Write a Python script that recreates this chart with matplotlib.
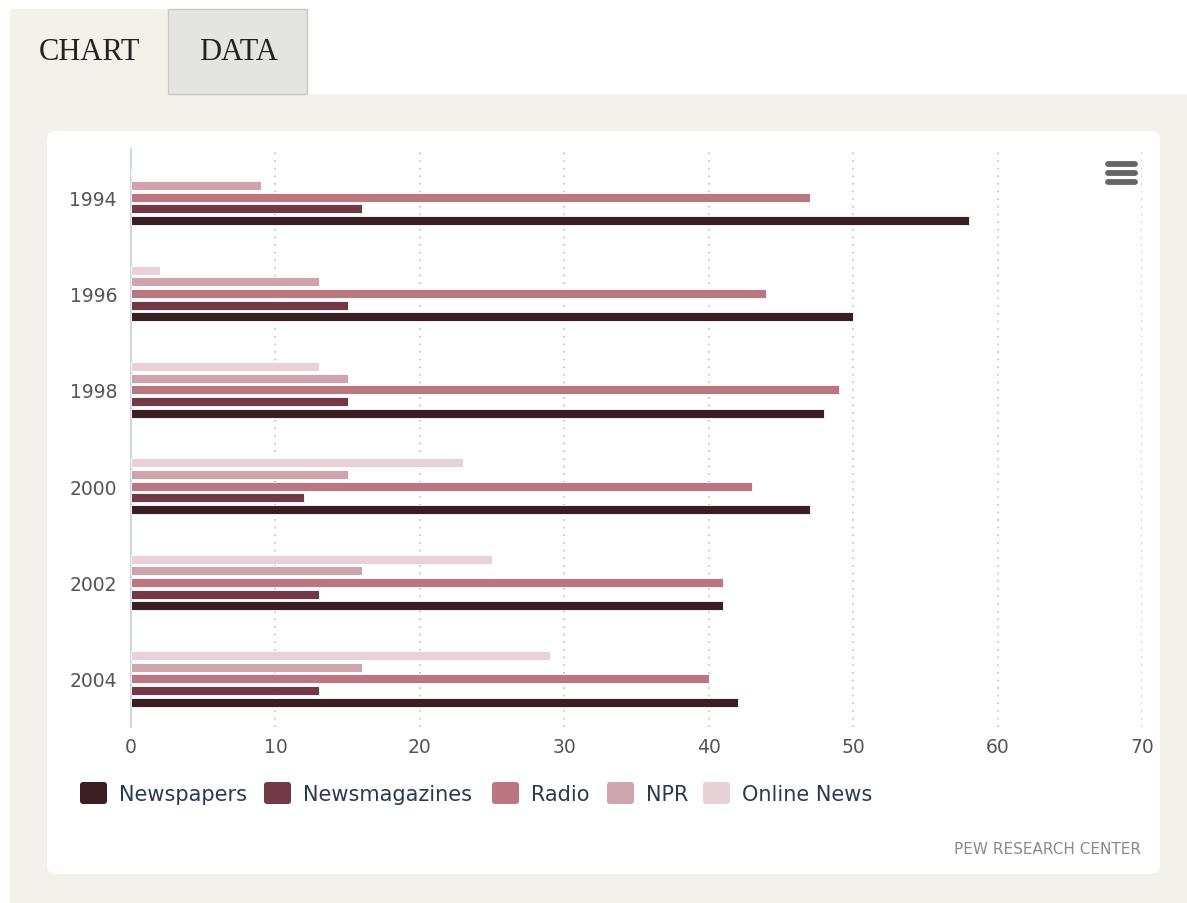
import numpy as np
import matplotlib
matplotlib.use("Agg")
from matplotlib import pyplot as plt
from matplotlib.patches import Rectangle, FancyBboxPatch

# data
years = ["1994", "1996", "1998", "2000", "2002", "2004"]
series_names = ["Newspapers", "Newsmagazines", "Radio", "NPR", "Online News"]
newspapers = [58, 50, 48, 47, 41, 42]
newsmagazines = [16, 15, 15, 12, 13, 13]
radio = [47, 44, 49, 43, 41, 40]
npr = [9, 13, 15, 15, 16, 16]
online_news = [0, 2, 13, 23, 25, 29]
x_ticks = [0, 10, 20, 30, 40, 50, 60, 70]

colors = ["#3b1e21", "#733a46", "#ba7780", "#cfa4ac", "#e8d1d7"]
series = [newspapers, newsmagazines, radio, npr, online_news]

W, H = 1187, 904
fig = plt.figure(figsize=(W / 100, H / 100), dpi=100)
fig.patch.set_facecolor("white")

# background layer in pixel coords
bg = fig.add_axes([0, 0, 1, 1])
bg.set_xlim(0, W)
bg.set_ylim(H, 0)
bg.axis("off")
beige = "#f4f0ea"
bg.add_patch(Rectangle((10, 95), W - 10, H - 95, color=beige, lw=0))
bg.add_patch(Rectangle((10, 10), 158, 86, color=beige, lw=0))
bg.add_patch(Rectangle((168, 10), 139, 85, facecolor="#e4e5e0", edgecolor="#c9cac4", lw=1))
bg.text(89, 53, "CHART", family="Liberation Serif", fontsize=22, color="#222222",
        ha="center", va="center")
bg.text(238, 53, "DATA", family="Liberation Serif", fontsize=22, color="#222222",
        ha="center", va="center")
bg.add_patch(FancyBboxPatch((47, 132), 1113, 743, boxstyle="round,pad=0,rounding_size=9",
                            facecolor="white", edgecolor="none"))

# hamburger menu icon
for yy in (165, 174, 183):
    bg.plot([1108, 1135], [yy, yy], color="#666666", lw=4.2, solid_capstyle="round")

# legend
leg_x = [80, 264, 492, 607, 703]
for name, col, lx in zip(series_names, colors, leg_x):
    bg.add_patch(FancyBboxPatch((lx, 783), 27, 22, boxstyle="round,pad=0,rounding_size=3",
                                facecolor=col, edgecolor="none"))
    bg.text(lx + 39, 795, name, fontsize=15, color="#2b3a52", ha="left", va="center")

bg.text(1141, 850, "PEW RESEARCH CENTER", fontsize=11, color="#8a8a8a",
        ha="right", va="center")

# chart axes
ax = fig.add_axes([131 / W, (H - 728) / H, (1142 - 131) / W, (728 - 150) / H])
ax.set_facecolor("none")
y = np.arange(len(years))
step = 0.121
bar_h = 0.095
for i, (vals, col) in enumerate(zip(series, colors)):
    offs = (2 - i) * step
    ax.barh(y + offs, vals, height=bar_h, color=col, edgecolor="white", linewidth=0.6, zorder=3)

ax.set_ylim(len(years) - 0.5, -0.5)
ax.set_xlim(0, 70)
ax.set_yticks(y)
ax.set_yticklabels(years)
ax.set_xticks(x_ticks)
ax.tick_params(axis="both", length=0, labelsize=13.5, labelcolor="#555555")
ax.tick_params(axis="y", pad=10)
ax.tick_params(axis="x", pad=7)
for xv in x_ticks[1:]:
    ax.axvline(xv, color="#b8b8b8", lw=1.1, ls=(0, (1, 4)), zorder=1)
for s in ["top", "right", "bottom"]:
    ax.spines[s].set_visible(False)
ax.spines["left"].set_color("#c0d0e0")
ax.spines["left"].set_linewidth(1.2)

fig.savefig("out.png", dpi=100)
